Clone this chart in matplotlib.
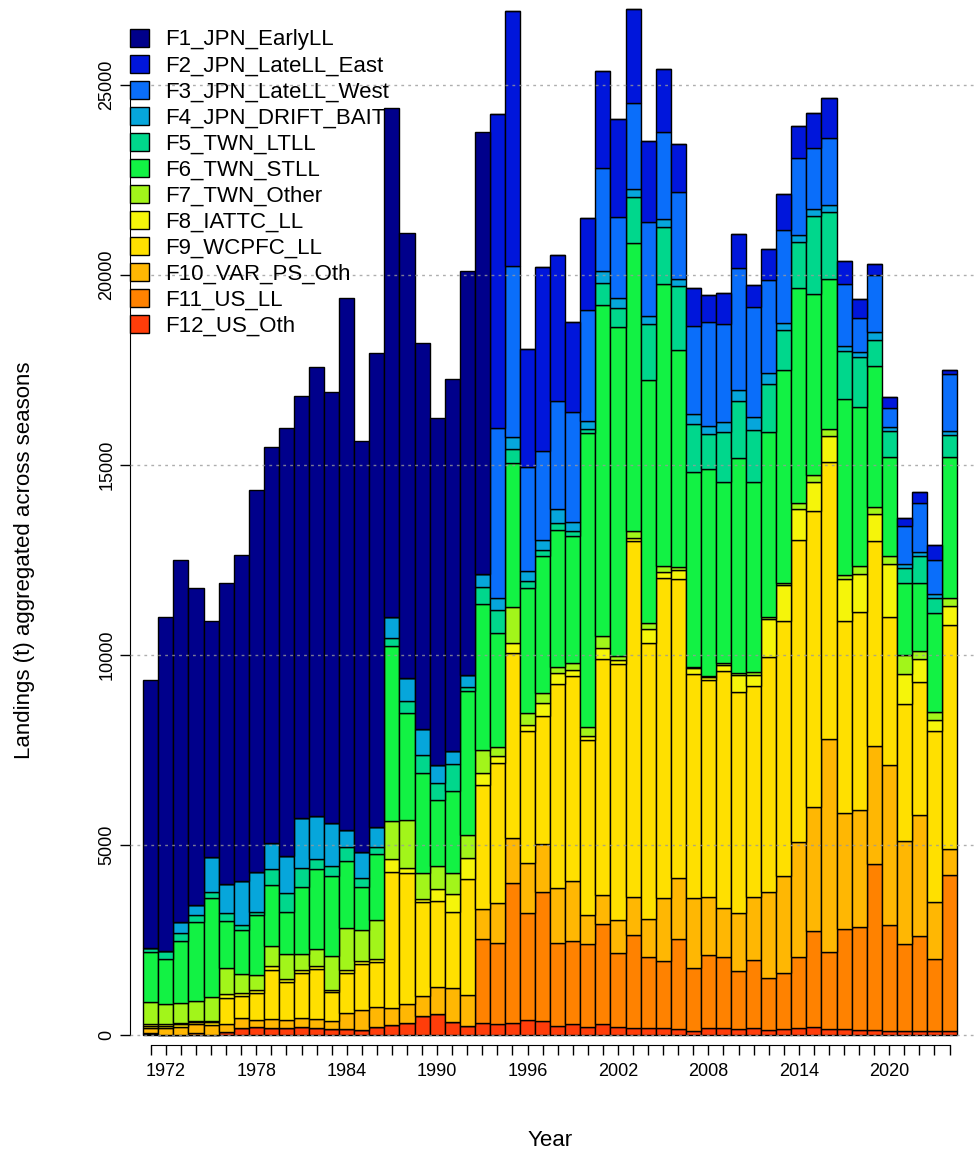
import numpy as np
import matplotlib.pyplot as plt
from matplotlib.patches import Patch

plt.rcParams['font.family'] = ['Liberation Sans', 'DejaVu Sans']

years = np.arange(1971, 2025)

fleets = ["F1_JPN_EarlyLL", "F2_JPN_LateLL_East", "F3_JPN_LateLL_West", "F4_JPN_DRIFT_BAIT",
          "F5_TWN_LTLL", "F6_TWN_STLL", "F7_TWN_Other", "F8_IATTC_LL", "F9_WCPFC_LL",
          "F10_VAR_PS_Oth", "F11_US_LL", "F12_US_Oth"]
colors = ["#00008B", "#0016DB", "#0A6EFA", "#06A6DB", "#00D78C", "#12F244",
          "#A2F51A", "#F5F50A", "#FFE000", "#FFB703", "#FF8200", "#FF3D0A"]

# landings (t), 1971-2024
f1 = [7044, 8781, 9518, 8351, 6210, 7938, 8571, 10044, 10438, 11271, 11097, 11807, 11324, 13999,
      10807, 12474, 13409, 11714, 10166, 9140, 9780, 10639, 11640] + [0] * 31
f2 = [0] * 23 + [8255, 6702, 3105, 4842, 3825, 2377, 2412, 2561, 2587, 2473, 2122, 1640, 1254, 991,
                 703, 800, 874, 581, 827, 958, 829, 921, 1053, 584, 500, 300, 300, 200, 300, 400, 100]
f3 = [0] * 23 + [4491, 4509, 2737, 2351, 2860, 2877, 2912, 2693, 2115, 2264, 2483, 2298, 2307, 2325,
                 2726, 2593, 3223, 2895, 2444, 2444, 2040, 1598, 1766, 1645, 900, 1500, 500, 1000, 1300, 900, 1500]
f4 = [0, 0, 281, 272, 939, 763, 1166, 1052, 676, 983, 1333, 1123, 1141, 439, 685, 526, 552, 588, 676,
      482, 342, 307, 351, 307, 316, 263, 263, 351, 246, 220, 316, 263, 210, 210, 220, 167, 254, 207,
      254, 301, 329, 301, 187, 168, 186, 187, 140, 150, 200, 100, 100, 100, 100, 100]
f5 = [105, 228, 219, 184, 149, 193, 132, 88, 421, 500, 482, 280, 263, 377, 236, 193, 202, 316, 464,
      439, 711, 106, 439, 614, 351, 202, 158, 193, 123, 96, 587, 500, 1211, 1474, 1500, 1693, 1254,
      922, 1316, 1476, 1363, 1249, 1053, 1221, 2050, 1768, 1250, 1300, 700, 700, 400, 700, 400, 600]
f6 = [1316, 1184, 1623, 2070, 2597, 1255, 1158, 1579, 1605, 1105, 1772, 2106, 2105, 1772, 1141, 1737,
      4605, 2824, 2650, 1737, 2167, 3798, 3842, 2982, 3807, 3272, 3596, 3596, 3359, 7737, 8711, 8666,
      7570, 6404, 7412, 5719, 5132, 5458, 4760, 5662, 5014, 4887, 5602, 5658, 4764, 3948, 4623, 4200,
      3700, 2600, 1900, 1800, 2600, 3700]
f7 = [597, 527, 535, 518, 631, 684, 509, 395, 526, 658, 421, 438, 895, 1096, 807, 1035, 1000, 1272,
      684, 614, 543, 614, 596, 246, 947, 324, 281, 158, 176, 246, 325, 106, 193, 158, 149, 70, 44, 35,
      60, 61, 70, 48, 46, 142, 189, 178, 124, 200, 200, 200, 500, 200, 200, 200]
f8 = [30, 35, 27, 27, 35, 90, 57, 69, 104, 70, 72, 74, 57, 73, 78, 75, 351, 132, 61, 307, 474, 553,
      325, 175, 246, 158, 333, 298, 158, 105, 289, 105, 61, 350, 158, 237, 149, 70, 150, 456, 290, 983,
      960, 816, 771, 685, 1100, 1000, 700, 1400, 800, 600, 300, 500]
f9 = [60, 70, 70, 70, 80, 700, 600, 720, 1300, 1000, 1200, 1330, 750, 1050, 1220, 1170, 3562, 3447,
      2483, 2272, 2009, 3043, 3272, 3685, 4886, 3465, 3369, 5377, 5386, 4605, 6202, 6737, 9369, 7281,
      8421, 7860, 5904, 5702, 6255, 5816, 5561, 6184, 6699, 7949, 7796, 7287, 5041, 5200, 5400, 3900,
      3600, 3500, 4500, 5900]
f10 = [140, 175, 219, 219, 260, 192, 246, 176, 228, 202, 220, 219, 228, 439, 526, 527, 456, 500, 526,
       701, 877, 816, 772, 1070, 1184, 1316, 1254, 1430, 1579, 763, 763, 877, 1008, 1000, 1667, 1614,
       1824, 1535, 1272, 1509, 1649, 2281, 2570, 3027, 3254, 5596, 3062, 3100, 3100, 4200, 2700, 3200,
       1500, 700]
f11 = [20, 0, 0, 61] + [0] * 18 + [2228, 2123, 3666, 2824, 3404, 2193, 2193, 2193, 2632, 1930, 2439,
       1869, 1772, 2377, 1667, 1930, 1886, 1544, 1799, 1359, 1474, 1886, 2535, 2044, 2640, 2700, 4370,
       2800, 2300, 2500, 1900, 4100]
f12 = [30, 0, 0, 0, 0, 88, 193, 219, 184, 193, 219, 193, 149, 149, 132, 219, 263, 307, 500, 553, 351,
       237, 307, 289, 325, 395, 368, 237, 289, 202, 289, 219, 193, 175, 175, 149, 105, 175, 175, 149,
       175, 132, 149, 175, 202, 149, 149, 130, 130, 100, 100, 100, 100, 100]

series = [f1, f2, f3, f4, f5, f6, f7, f8, f9, f10, f11, f12]

fig = plt.figure(figsize=(9.78, 11.51), dpi=100)
ax = fig.add_axes([130 / 978, 106 / 1151, 845 / 978, 1040 / 1151])

# stack from the bottom (F12) up to F1
bottom = np.zeros(len(years))
for name, col, vals in reversed(list(zip(fleets, colors, series))):
    vals = np.array(vals, dtype=float)
    ax.bar(years, vals, width=1.0, bottom=bottom, color=col, edgecolor="black",
           linewidth=1.0, zorder=2)
    bottom += vals

yt = np.arange(0, 25001, 5000)
for v in yt:
    ax.axhline(v, color="#9a9a9a", linestyle=(0, (2, 3)), linewidth=1.0, alpha=0.8, zorder=3)

ax.set_xlim(1969.62, 2025.69)
ax.set_ylim(-263, 27105)

for s in ["top", "right"]:
    ax.spines[s].set_visible(False)
ax.spines["left"].set_bounds(0, 25000)
ax.spines["bottom"].set_bounds(years[0], years[-1])

ax.set_yticks(yt)
ax.set_yticklabels([str(v) for v in yt], rotation=90, va="center", fontsize=13)
ax.set_xticks(years)
ax.set_xticklabels([str(y) if (y - 1972) % 6 == 0 else "" for y in years], fontsize=13)
ax.tick_params(axis="both", direction="out", length=7, width=1.0)
ax.tick_params(axis="x", pad=6)

ax.set_xlabel("Year", fontsize=16)
ax.set_ylabel("Landings (t) aggregated across seasons", fontsize=16)
ax.xaxis.set_label_coords(0.497, -0.082)
ax.yaxis.set_label_coords(-0.113, 0.466)

handles = [Patch(facecolor=c, edgecolor="black", linewidth=1.0) for c in colors]
ax.legend(handles, fleets, loc="upper left", bbox_to_anchor=(0.0, 0.977), frameon=False,
          fontsize=16, handlelength=0.85, handleheight=0.85, handletextpad=0.75,
          labelspacing=0.2, borderaxespad=0, borderpad=0)

fig.savefig("out.png", dpi=100)
